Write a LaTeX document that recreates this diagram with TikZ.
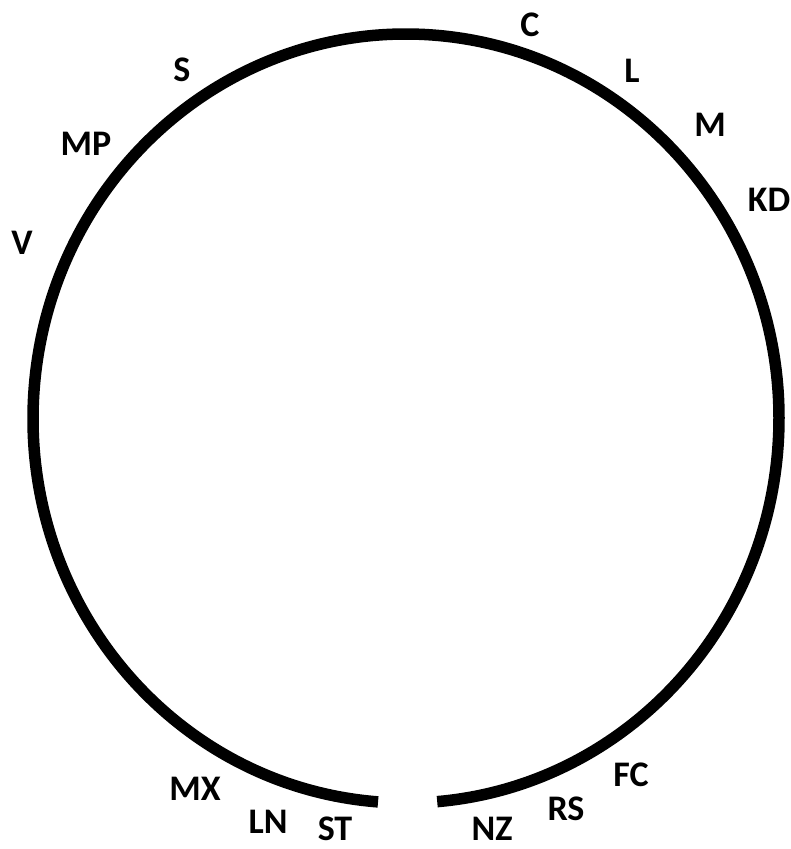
\documentclass[tikz,border=0pt]{standalone}
\usepackage{fontspec}
\setmainfont{Carlito}
\usetikzlibrary{calc}

\begin{document}
\begin{tikzpicture}[x=1pt,y=-1pt,lab/.style={font=\bfseries\fontsize{36}{40}\selectfont,inner sep=0pt}]
\useasboundingbox (0,0) rectangle (791,849);
\coordinate (O) at (406,418.5);
\draw[line width=11.5pt,line cap=butt] (O) ++(94.3:373 and 384.5) arc[start angle=94.3, end angle=445.2, x radius=373, y radius=384.5];
\node[lab] (C) at (530,25) {C}; \node[lab] (L) at (632,71) {L}; \node[lab] (M) at (710,125) {M}; \node[lab] (KD) at (769,200) {KD};
\node[lab] (S) at (182,70) {S}; \node[lab] (MP) at (86,144) {MP}; \node[lab] (V) at (22,243) {V};
\node[lab] (MX) at (195,789) {MX}; \node[lab] (LN) at (268,822) {LN}; \node[lab] (ST) at (335,829) {ST};
\node[lab] (NZ) at (492,829) {NZ}; \node[lab] (RS) at (566,809) {RS}; \node[lab] (FC) at (631,775) {FC};
\end{tikzpicture}
\end{document}
